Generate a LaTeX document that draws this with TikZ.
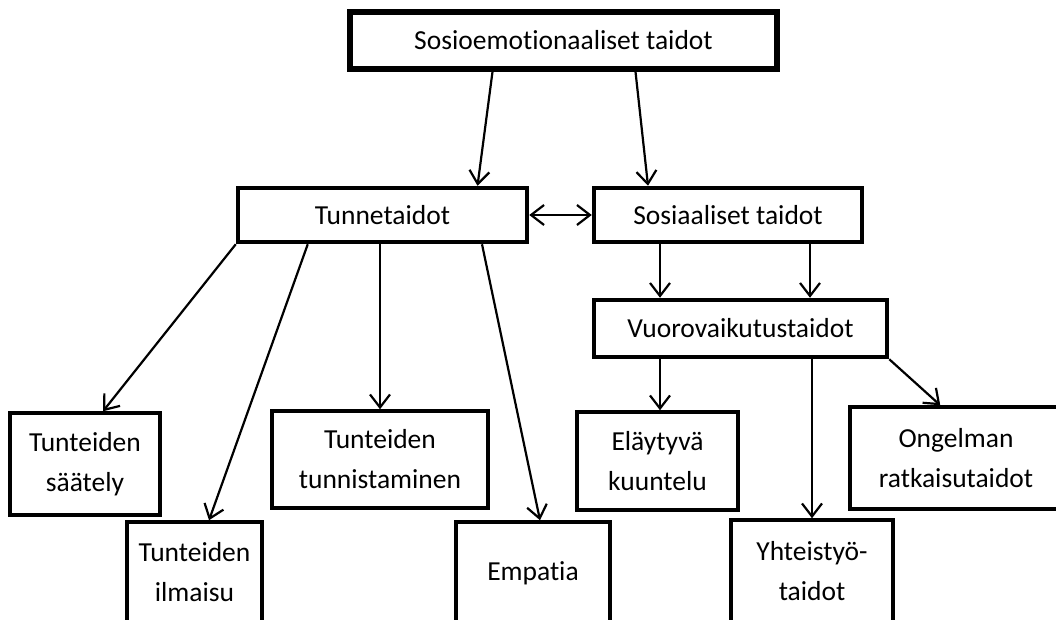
\documentclass[tikz,border=0pt]{standalone}
\usepackage{fontspec}
\setmainfont{Carlito}[RawFeature={-liga;-calt}]
\usetikzlibrary{arrows.meta}
\begin{document}
\begin{tikzpicture}[x=1pt,y=-1pt,
	font=\fontsize{27.5}{40}\selectfont,
	box/.style={draw,line width=3.5pt,align=center,inner sep=0pt},
	mainbox/.style={box,line width=5.5pt},
	midbox/.style={box,line width=4.5pt},
	arr/.style={line width=2.2pt,-{Straight Barb[length=13pt,width=20pt,line width=2.2pt]}}]
		\useasboundingbox (0,0) rectangle (1056,620);
		\clip (0,0) rectangle (1056,620);
		\node[mainbox,minimum width=427,minimum height=57] (sos) at (563.5,40.5) {Sosioemotionaaliset taidot};
		\node[midbox,minimum width=289,minimum height=54] (tun) at (382.5,215) {Tunnetaidot};
		\node[midbox,minimum width=268,minimum height=54] (sosi) at (728,215) {Sosiaaliset taidot};
		\node[midbox,minimum width=293,minimum height=57] (vuoro) at (740.5,328.5) {Vuorovaikutustaidot};
		\node[box,minimum width=150,minimum height=102] (saat) at (85,464) {Tunteiden\\säätely};
		\node[box,minimum width=135,minimum height=100] (ilm) at (194.5,572) {Tunteiden\\ilmaisu};
		\node[box,minimum width=216,minimum height=97] (tunn) at (380,459.5) {Tunteiden\\tunnistaminen};
		\node[box,minimum width=154,minimum height=102] (emp) at (533,573) {Empatia};
		\node[box,minimum width=161,minimum height=98] (ela) at (657.5,461) {Eläytyvä\\kuuntelu};
		\node[box,minimum width=162,minimum height=102] (yht) at (812,571) {Yhteistyö-\\taidot};
		\node[box,minimum width=212,minimum height=102] (ong) at (956,458) {Ongelman\\ratkaisutaidot};
		\draw[arr] ([xshift=-71]sos.south)--([xshift=95]tun.north);
		\draw[arr] ([xshift=72]sos.south)--([xshift=-80]sosi.north);
		\draw[line width=2.2pt,{Straight Barb[length=13pt,width=20pt,line width=2.2pt]}-{Straight Barb[length=13pt,width=20pt,line width=2.2pt]}] (tun.east)--(sosi.west);
		\draw[arr] (tun.south west)--([xshift=18]saat.north);
		\draw[arr] ([xshift=72]tun.south west)--([xshift=14.5]ilm.north);
		\draw[arr] ([xshift=-2.5]tun.south)--(tunn.north);
		\draw[arr] ([xshift=99.5]tun.south)--([xshift=7]emp.north);
		\draw[arr] ([xshift=-68]sosi.south)--([xshift=-80.5]vuoro.north);
		\draw[arr] ([xshift=82]sosi.south)--([xshift=69.5]vuoro.north);
		\draw[arr] ([xshift=-80.5]vuoro.south)--([xshift=2.5]ela.north);
		\draw[arr] ([xshift=71.5]vuoro.south)--(yht.north);
		\draw[arr] (vuoro.south east)--([xshift=92]ong.north west);
	\end{tikzpicture}
\end{document}
